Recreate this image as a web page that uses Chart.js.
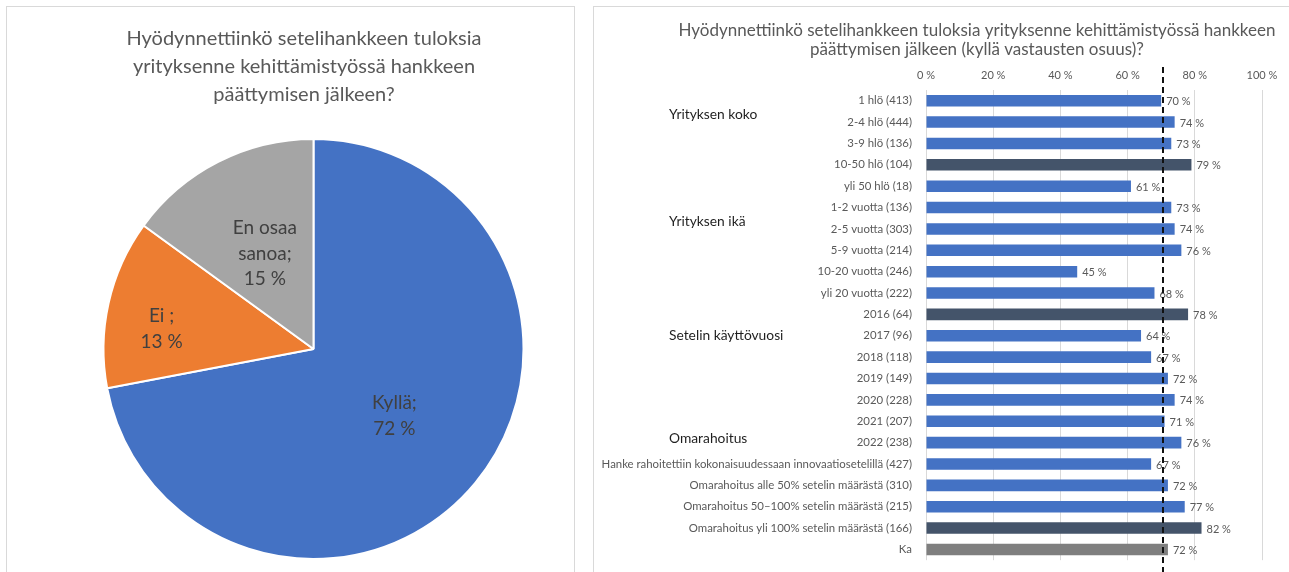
<!DOCTYPE html>
<html>
<head>
<meta charset="utf-8">
<script src="https://cdn.jsdelivr.net/npm/chart.js@4.4.1/dist/chart.umd.min.js"></script>
<style>
  body { margin: 0; background: #fff; width: 1289px; height: 572px; overflow: hidden; position: relative; }
  .panel { position: absolute; border: 1px solid #d9d9d9; background: #fff; overflow: hidden; }
  #leftPanel { left: 6px; top: 6px; width: 567px; height: 580px; }
  #rightPanel { left: 593px; top: 6px; width: 710px; height: 580px; border-right: none; }
  canvas { position: absolute; left: 0; top: 0; }
</style>
</head>
<body>
<div class="panel" id="leftPanel"><canvas id="pieChart" width="567" height="566"></canvas></div>
<div class="panel" id="rightPanel"><canvas id="barChart" width="696" height="566"></canvas></div>
<script>
const FONT = 'Lato, "Open Sans", sans-serif';

// pie: all answers
const pieTitle = ['Hyödynnettiinkö setelihankkeen tuloksia', 'yrityksenne kehittämistyössä hankkeen', 'päättymisen jälkeen?'];
const pieCategories = ['Kyllä', 'Ei', 'En osaa sanoa'];
const pieLabelLines = [['Kyllä;'], ['Ei ;'], ['En osaa', 'sanoa;']];
const pieValues = [72, 13, 15];
const pieColors = ['#4472c4', '#ed7d31', '#a5a5a5'];

// bars: share of "kyllä" answers by group
const barTitle = ['Hyödynnettiinkö setelihankkeen tuloksia yrityksenne kehittämistyössä hankkeen', 'päättymisen jälkeen (kyllä vastausten osuus)?'];
const barCategories = [
  '1 hlö (413)', '2-4 hlö (444)', '3-9 hlö (136)', '10-50 hlö (104)', 'yli 50 hlö (18)',
  '1-2 vuotta (136)', '2-5 vuotta (303)', '5-9 vuotta (214)', '10-20 vuotta (246)', 'yli 20 vuotta (222)',
  '2016 (64)', '2017 (96)', '2018 (118)', '2019 (149)', '2020 (228)', '2021 (207)', '2022 (238)',
  'Hanke rahoitettiin kokonaisuudessaan innovaatiosetelillä (427)',
  'Omarahoitus alle 50% setelin määrästä (310)',
  'Omarahoitus 50–100% setelin määrästä (215)',
  'Omarahoitus yli 100% setelin määrästä (166)',
  'Ka'
];
const barValues = [70, 74, 73, 79, 61, 73, 74, 76, 45, 68, 78, 64, 67, 72, 74, 71, 76, 67, 72, 77, 82, 72];
const highlighted = ['10-50 hlö (104)', '2016 (64)', 'Omarahoitus yli 100% setelin määrästä (166)'];
const averageLine = 70.5;
const xTicks = [0, 20, 40, 60, 80, 100];

// group headings and the row (index) they sit next to
const groupNames = ['Yrityksen koko', 'Yrityksen ikä', 'Setelin käyttövuosi', 'Omarahoitus'];
const groupRows = [0.65, 5.65, 10.97, 15.8];

const barColors = barCategories.map(function(c) {
  if (c === 'Ka') return '#7f7f7f';
  return highlighted.includes(c) ? '#44546a' : '#4472c4';
});

//title and labels inside the pie slices
const pieLabelPlugin = {
  id: 'pieLabels',
  afterDatasetsDraw(chart, args, opts) {
    const ctx = chart.ctx;
    const arcs = chart.getDatasetMeta(0).data;
    ctx.save();
    ctx.textAlign = 'center';
    ctx.textBaseline = 'middle';

    ctx.font = '20px ' + FONT;
    ctx.fillStyle = '#595959';
    pieTitle.forEach(function(t, k) {
      ctx.fillText(t, 297, 32 + k * 28);
    });

    ctx.font = '19px ' + FONT;
    ctx.fillStyle = '#404040';
    arcs.forEach(function(arc, i) {
      const place = opts.places[i];
      const mid = (arc.startAngle + arc.endAngle) / 2 + place.turn * Math.PI / 180;
      const r = arc.outerRadius * place.r;
      const x = arc.x + Math.cos(mid) * r;
      const y = arc.y + Math.sin(mid) * r;
      const lines = pieLabelLines[i].concat([pieValues[i] + ' %']);
      const lh = 25.5;
      lines.forEach(function(t, k) {
        ctx.fillText(t, x, y + (k - (lines.length - 1) / 2) * lh);
      });
    });
    ctx.restore();
  }
};

new Chart(document.getElementById('pieChart'), {
  type: 'pie',
  data: {
    labels: pieCategories,
    datasets: [{
      data: pieValues,
      backgroundColor: pieColors,
      borderColor: '#ffffff',
      borderWidth: 2
    }]
  },
  options: {
    responsive: false,
    animation: false,
    layout: { padding: { left: 46, top: 131, bottom: 13 } },
    plugins: {
      legend: { display: false },
      tooltip: { enabled: false },
      title: { display: false },
      pieLabels: { places: [{ r: 0.5, turn: 0 }, { r: 0.73, turn: -5 }, { r: 0.51, turn: 0 }] }
    }
  },
  plugins: [pieLabelPlugin]
});

//title, group headings, value labels and the dashed average line
const barExtrasPlugin = {
  id: 'barExtras',
  afterDatasetsDraw(chart) {
    const ctx = chart.ctx;
    const xs = chart.scales.x;
    const ys = chart.scales.y;
    ctx.save();

    // value labels
    ctx.font = '11px ' + FONT;
    ctx.fillStyle = '#595959';
    ctx.textAlign = 'left';
    ctx.textBaseline = 'middle';
    chart.getDatasetMeta(0).data.forEach(function(bar, i) {
      ctx.fillText(barValues[i] + ' %', bar.x + 5, bar.y + 1);
    });

    // average line
    const ax = Math.round(xs.getPixelForValue(averageLine));
    ctx.strokeStyle = '#111111';
    ctx.lineWidth = 2;
    ctx.setLineDash([6, 4]);
    ctx.beginPath();
    ctx.moveTo(ax, 60);
    ctx.lineTo(ax, chart.height);
    ctx.stroke();
    ctx.setLineDash([]);

    // group headings
    ctx.font = '13.8px ' + FONT;
    ctx.fillStyle = '#1f1f1f';
    groupNames.forEach(function(g, i) {
      ctx.fillText(g, 75, ys.getPixelForValue(groupRows[i]));
    });

    // title
    ctx.font = '17px ' + FONT;
    ctx.fillStyle = '#595959';
    ctx.textAlign = 'center';
    barTitle.forEach(function(t, k) {
      ctx.fillText(t, 383, 23.5 + k * 19);
    });
    ctx.restore();
  }
};

new Chart(document.getElementById('barChart'), {
  type: 'bar',
  data: {
    labels: barCategories,
    datasets: [{
      data: barValues,
      backgroundColor: barColors,
      barPercentage: 0.6,
      categoryPercentage: 0.9
    }]
  },
  options: {
    indexAxis: 'y',
    responsive: false,
    animation: false,
    layout: { padding: { right: 28, bottom: 11 } },
    plugins: {
      legend: { display: false },
      tooltip: { enabled: false },
      title: { display: false }
    },
    scales: {
      x: {
        position: 'top',
        min: 0,
        max: 100,
        afterBuildTicks: function(scale) {
          scale.ticks = xTicks.map(function(v) { return { value: v }; });
        },
        afterFit: function(scale) { scale.height = 83; },
        grid: { color: '#d9d9d9', drawTicks: false },
        border: { display: false },
        ticks: {
          padding: 8,
          color: '#595959',
          font: { family: FONT, size: 11 },
          callback: function(v) { return v + ' %'; }
        }
      },
      y: {
        afterFit: function(scale) { scale.width = 332; },
        grid: { display: false },
        border: { display: false },
        ticks: {
          padding: 6,
          autoSkip: false,
          color: '#595959',
          font: { family: FONT, size: 11.4 }
        }
      }
    }
  },
  plugins: [barExtrasPlugin]
});
</script>
</body>
</html>
